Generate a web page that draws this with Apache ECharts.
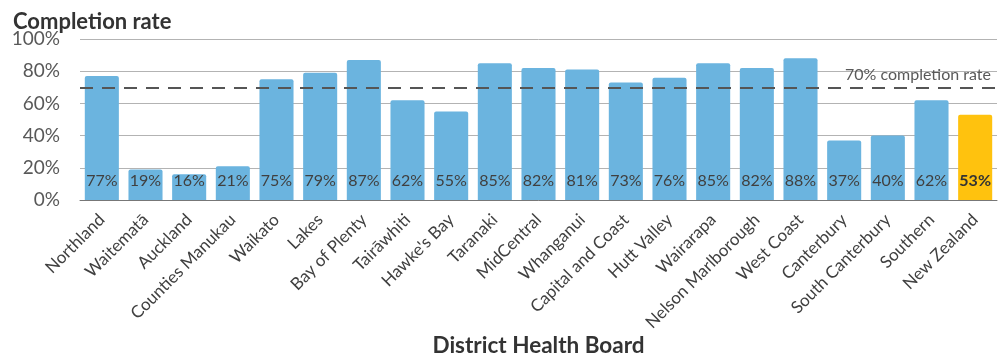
<!DOCTYPE html>
<html>
<head>
<meta charset="utf-8">
<script src="https://cdn.jsdelivr.net/npm/echarts@6/dist/echarts.min.js"></script>
<style>html,body{margin:0;padding:0;background:#fff;}#c{width:1007px;height:355px;}</style>
</head>
<body>
<div id="c"></div>
<script>
const categories = ["Northland","Waitematā","Auckland","Counties Manukau","Waikato","Lakes","Bay of Plenty","Tairāwhiti","Hawke's Bay","Taranaki","MidCentral","Whanganui","Capital and Coast","Hutt Valley","Wairarapa","Nelson Marlborough","West Coast","Canterbury","South Canterbury","Southern","New Zealand"];
const values = [77,19,16,21,75,79,87,62,55,85,82,81,73,76,85,82,88,37,40,62,53];
const targetRate = 70;
const targetLabel = "70% completion rate";
const highlightCategory = "New Zealand";

const FONT = "Lato";
const chart = echarts.init(document.getElementById('c'), null, {renderer: 'canvas'});
const data = values.map((v, i) => {
  const hi = categories[i] === highlightCategory;
  return {
    value: v,
    itemStyle: {color: hi ? '#FFC20E' : '#6BB4DF'},
    label: hi ? {fontWeight: 'bold', color: '#333'} : undefined
  };
});
chart.setOption({
  animation: false,
  title: {
    text: 'Completion rate', left: 8, top: 6,
    textStyle: {fontFamily: FONT, fontWeight: 'bold', fontSize: 22, color: '#333'}
  },
  grid: {left: 80, right: 10, top: 39, bottom: 155, containLabel: false, outerBoundsMode: 'none'},
  xAxis: {
    type: 'category', data: categories,
    name: 'District Health Board', nameLocation: 'middle', nameGap: 128,
    nameTextStyle: {fontFamily: FONT, fontWeight: 'bold', fontSize: 22.5, color: '#333'},
    axisLine: {lineStyle: {color: '#777', width: 1}},
    axisTick: {show: false},
    axisLabel: {rotate: 45, interval: 0, margin: 17, fontFamily: FONT, fontSize: 17, color: '#404040'}
  },
  yAxis: {
    type: 'value', min: 0, max: 100, interval: 20,
    axisLabel: {formatter: '{value}%', margin: 20, fontFamily: FONT, fontSize: 19, color: '#595959'},
    splitLine: {lineStyle: {color: '#b3b3b3', width: 1}},
    axisLine: {show: false}, axisTick: {show: false}
  },
  series: [{
    type: 'bar', data: data, barCategoryGap: '22%',
    itemStyle: {borderRadius: [2,2,0,0]},
    label: {show: true, position: 'insideBottom', distance: 11, formatter: '{c}%',
      fontFamily: FONT, fontSize: 16, color: '#404040'},
    markLine: {
      silent: true, symbol: 'none',
      lineStyle: {color: '#555', width: 2, type: [13, 9]},
      label: {show: true, position: 'insideEndTop', formatter: targetLabel, distance: [6, 4],
        fontFamily: FONT, fontSize: 16, color: '#595959'},
      data: [{yAxis: targetRate}]
    }
  }]
});
</script>
</body>
</html>
